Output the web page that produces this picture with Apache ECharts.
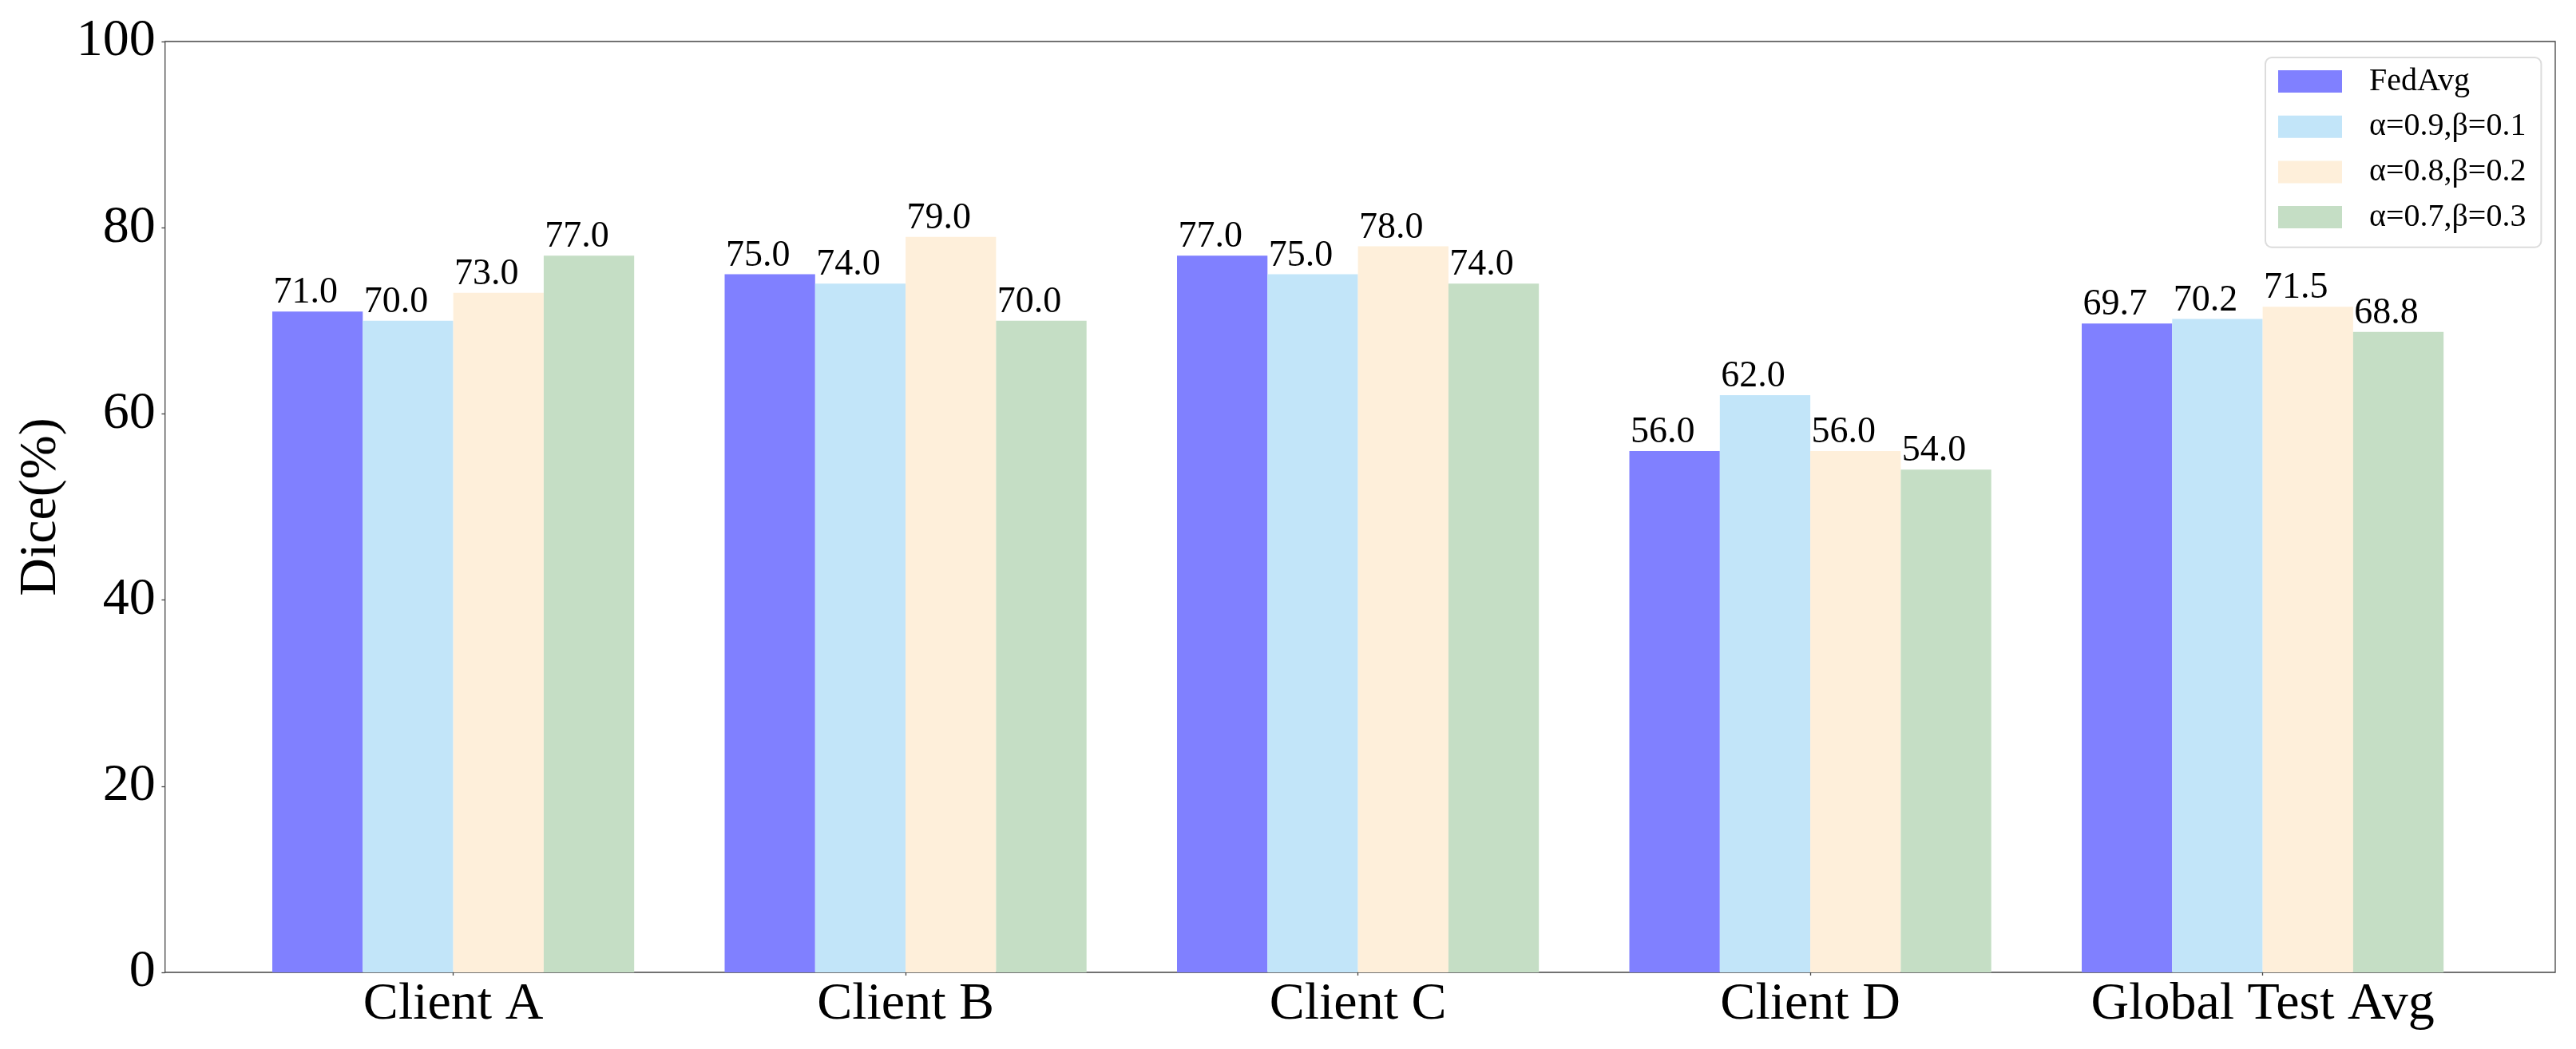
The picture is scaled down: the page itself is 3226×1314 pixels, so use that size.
<!DOCTYPE html>
<html>
<head>
<meta charset="utf-8">
<script src="https://cdn.jsdelivr.net/npm/echarts@6/dist/echarts.min.js"></script>
<style>
html,body{margin:0;padding:0;background:#fff;}
#chart{width:3226px;height:1314px;}
</style>
</head>
<body>
<div id="chart"></div>
<script>
var categories = ['Client A', 'Client B', 'Client C', 'Client D', 'Global Test Avg'];
var seriesNames = ['FedAvg', 'α=0.9,β=0.1', 'α=0.8,β=0.2', 'α=0.7,β=0.3'];
var fedAvg = [71.0, 75.0, 77.0, 56.0, 69.7];
var a09 = [70.0, 74.0, 75.0, 62.0, 70.2];
var a08 = [73.0, 79.0, 78.0, 56.0, 71.5];
var a07 = [77.0, 70.0, 74.0, 54.0, 68.8];
var yTicks = [0, 20, 40, 60, 80, 100];
var colors = ['#8080FF', '#C2E5F9', '#FEEFDA', '#C5DEC5'];

var FONT = "'Liberation Serif', 'Times New Roman', serif";
var allData = [fedAvg, a09, a08, a07];

var chart = echarts.init(document.getElementById('chart'), null, {renderer: 'canvas'});

var series = allData.map(function (d, i) {
  return {
    name: seriesNames[i],
    type: 'bar',
    xAxisIndex: 1,
    yAxisIndex: 1,
    data: d,
    barWidth: 113.3,
    barGap: '0%',
    itemStyle: {color: colors[i]},
    label: {
      show: true,
      position: 'top',
      distance: 0,
      offset: [-15, 0],
      color: '#000',
      fontFamily: FONT,
      fontSize: 46,
      formatter: function (p) { return p.value.toFixed(1); }
    },
    emphasis: {disabled: true}
  };
});

chart.setOption({
  animation: false,
  backgroundColor: '#fff',
  textStyle: {fontFamily: FONT},
  grid: [
    {left: 206.7, right: 26, top: 52, bottom: 96, show: true, borderColor: '#444', borderWidth: 1.3, backgroundColor: 'transparent'},
    {left: 284.35, right: 109.15, top: 52, bottom: 96}
  ],
  legend: {
    orient: 'vertical',
    left: 2837,
    top: 72,
    padding: [10, 19, 17.6, 16],
    itemWidth: 80,
    itemHeight: 28,
    itemGap: 16.7,
    icon: 'rect',
    backgroundColor: '#fff',
    borderColor: '#dcdcdc',
    borderWidth: 2,
    borderRadius: 8,
    data: seriesNames,
    textStyle: {fontFamily: FONT, fontSize: 40, color: '#000', padding: [0, 0, 0, 29]}
  },
  xAxis: [
    {gridIndex: 0, type: 'value', min: 0, max: 1, show: false},
    {
      gridIndex: 1, type: 'category', data: categories,
      axisLine: {show: false},
      axisTick: {show: true, alignWithLabel: true, length: 4, lineStyle: {color: '#444', width: 1.3}},
      axisLabel: {fontFamily: FONT, fontSize: 66, color: '#000', margin: 8},
      splitLine: {show: false}
    }
  ],
  yAxis: [
    {
      gridIndex: 0, type: 'value', min: 0, max: 100, interval: 20,
      name: 'Dice(%)', nameLocation: 'middle', nameGap: 112, nameRotate: 90,
      nameTextStyle: {fontFamily: FONT, fontSize: 66, color: '#000'},
      axisLine: {show: false},
      axisTick: {show: true, length: 4.3, lineStyle: {color: '#444', width: 1.3}},
      axisLabel: {fontFamily: FONT, fontSize: 66, color: '#000', margin: 12,
        formatter: function (v) { return yTicks.indexOf(v) >= 0 ? String(v) : ''; }},
      splitLine: {show: false}
    },
    {gridIndex: 1, type: 'value', min: 0, max: 100, show: false, splitLine: {show: false}}
  ],
  series: series
});
</script>
</body>
</html>
